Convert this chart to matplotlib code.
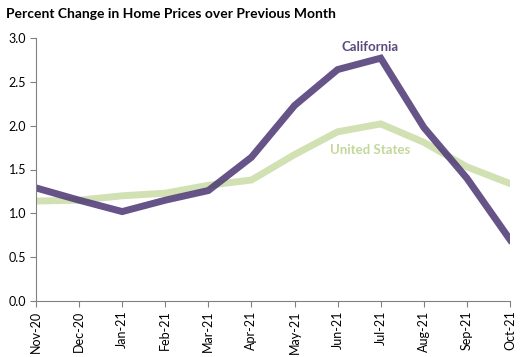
import matplotlib
matplotlib.use("Agg")
import matplotlib.pyplot as plt

months = ["Nov-20", "Dec-20", "Jan-21", "Feb-21", "Mar-21", "Apr-21",
          "May-21", "Jun-21", "Jul-21", "Aug-21", "Sep-21", "Oct-21"]
california = [1.29, 1.15, 1.02, 1.15, 1.26, 1.64, 2.23, 2.64, 2.77, 1.98, 1.40, 0.70]
united_states = [1.14, 1.15, 1.20, 1.23, 1.32, 1.38, 1.67, 1.93, 2.02, 1.81, 1.53, 1.34]

plt.rcParams['font.family'] = ['Lato', 'DejaVu Sans']

fig = plt.figure(figsize=(5.27, 3.57), dpi=100)
ax = fig.add_axes([36/527, 1 - 301/357, (510-36)/527, (301-38)/357])

x = list(range(len(months)))
ax.plot(x, united_states, color="#C4D79B", lw=5, alpha=0.75, solid_joinstyle="miter")
ax.plot(x, california, color="#4B3573", lw=5, alpha=0.85, solid_joinstyle="miter")

ax.set_xlim(0, len(months) - 1)
ax.set_ylim(0, 3.0)
ax.set_yticks([0, 0.5, 1.0, 1.5, 2.0, 2.5, 3.0])
ax.set_yticklabels([f"{v:.1f}" for v in [0, 0.5, 1.0, 1.5, 2.0, 2.5, 3.0]], fontsize=9)
ax.set_xticks(x)
ax.set_xticklabels(months, rotation=90, fontsize=9)

for s in ["top", "right"]:
    ax.spines[s].set_visible(False)
for s in ["left", "bottom"]:
    ax.spines[s].set_color("#808080")
    ax.spines[s].set_linewidth(0.8)
ax.tick_params(axis="both", color="#808080", length=4, width=0.8, direction="out", pad=3)

ax.text(7.75, 2.9, "California", color="#5B4A7E", fontsize=9.5, fontweight="bold",
        ha="center", va="center")
ax.text(7.75, 1.72, "United States", color="#C4D79B", fontsize=9.5, fontweight="bold",
        ha="center", va="center")

fig.text(6/527, 1 - 14/357, "Percent Change in Home Prices over Previous Month",
         fontsize=10, fontweight="bold", ha="left", va="center")

fig.savefig("out.png", dpi=100)
